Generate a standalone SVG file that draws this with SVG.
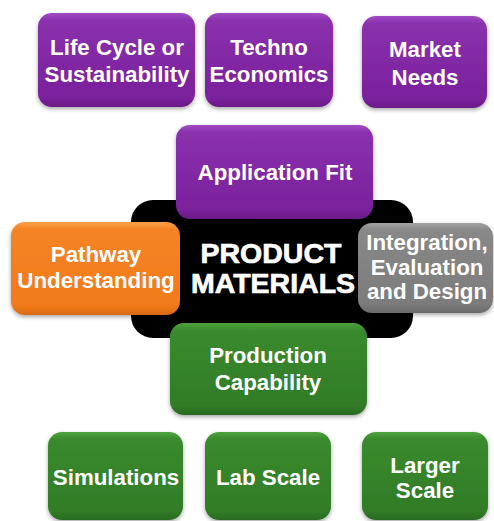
<svg xmlns="http://www.w3.org/2000/svg" width="494" height="521" viewBox="0 0 494 521">
<style>
.t{font-family:"Liberation Sans",Arial,sans-serif;font-weight:bold;fill:#ffffff;text-anchor:middle;font-size:22.3px}
.big{font-size:28.5px;stroke:#ffffff;stroke-width:0.7px}
.box{filter:url(#sh)}
</style>
<defs>
<linearGradient id="gp" x1="0" y1="0" x2="0" y2="1">
<stop offset="0" stop-color="#a04cc4"/><stop offset="0.08" stop-color="#8a31ad"/><stop offset="0.9" stop-color="#7a219c"/><stop offset="1" stop-color="#6a1a88"/>
</linearGradient>
<linearGradient id="gg" x1="0" y1="0" x2="0" y2="1">
<stop offset="0" stop-color="#4ea43e"/><stop offset="0.08" stop-color="#3a8a2e"/><stop offset="0.9" stop-color="#317c27"/><stop offset="1" stop-color="#286a20"/>
</linearGradient>
<linearGradient id="go" x1="0" y1="0" x2="0" y2="1">
<stop offset="0" stop-color="#fba04a"/><stop offset="0.08" stop-color="#f58426"/><stop offset="0.9" stop-color="#f07a1a"/><stop offset="1" stop-color="#d86a12"/>
</linearGradient>
<linearGradient id="gy" x1="0" y1="0" x2="0" y2="1">
<stop offset="0" stop-color="#a0a0a0"/><stop offset="0.08" stop-color="#888888"/><stop offset="0.9" stop-color="#7c7c7c"/><stop offset="1" stop-color="#6a6a6a"/>
</linearGradient>
<filter id="sh" x="-10%" y="-10%" width="120%" height="130%">
<feDropShadow dx="0" dy="2" stdDeviation="2" flood-color="#000" flood-opacity="0.35"/>
</filter>
</defs>

<g id="center">
<rect x="131" y="200" width="282" height="138" rx="22" fill="#000"/>
<text class="t big" x="271" y="263">PRODUCT</text>
<text class="t big" x="273" y="293">MATERIALS</text>
</g>

<g id="lifecycle">
<rect class="box" x="38" y="13" width="157" height="94" rx="14" fill="url(#gp)"/>
<text class="t" x="117" y="55">Life Cycle or</text>
<text class="t" x="117" y="82">Sustainability</text>
</g>
<g id="techno">
<rect class="box" x="205" y="13" width="128" height="94" rx="14" fill="url(#gp)"/>
<text class="t" x="269" y="55">Techno</text>
<text class="t" x="269" y="82">Economics</text>
</g>
<g id="market">
<rect class="box" x="362" y="16" width="125" height="92" rx="14" fill="url(#gp)"/>
<text class="t" x="425" y="57">Market</text>
<text class="t" x="425" y="85">Needs</text>
</g>

<g id="appfit">
<rect class="box" x="176" y="125" width="197" height="94" rx="14" fill="url(#gp)"/>
<text class="t" x="275" y="180">Application Fit</text>
</g>

<g id="pathway">
<rect class="box" x="11" y="222" width="169" height="93" rx="14" fill="url(#go)"/>
<text class="t" x="96" y="262">Pathway</text>
<text class="t" x="96" y="288">Understanding</text>
</g>

<g id="integration">
<rect class="box" x="358" y="223" width="135" height="90" rx="14" fill="url(#gy)"/>
<text class="t" x="427" y="250">Integration,</text>
<text class="t" x="427" y="275">Evaluation</text>
<text class="t" x="427" y="299">and Design</text>
</g>

<g id="production">
<rect class="box" x="170" y="323" width="197" height="92" rx="14" fill="url(#gg)"/>
<text class="t" x="268" y="363">Production</text>
<text class="t" x="268" y="390">Capability</text>
</g>

<g id="simulations">
<rect class="box" x="48" y="432" width="135" height="88" rx="14" fill="url(#gg)"/>
<text class="t" x="116" y="485">Simulations</text>
</g>
<g id="labscale">
<rect class="box" x="205" y="432" width="126" height="88" rx="14" fill="url(#gg)"/>
<text class="t" x="268" y="485">Lab Scale</text>
</g>
<g id="largerscale">
<rect class="box" x="362" y="432" width="126" height="88" rx="14" fill="url(#gg)"/>
<text class="t" x="425" y="473">Larger</text>
<text class="t" x="425" y="498">Scale</text>
</g>
</svg>
